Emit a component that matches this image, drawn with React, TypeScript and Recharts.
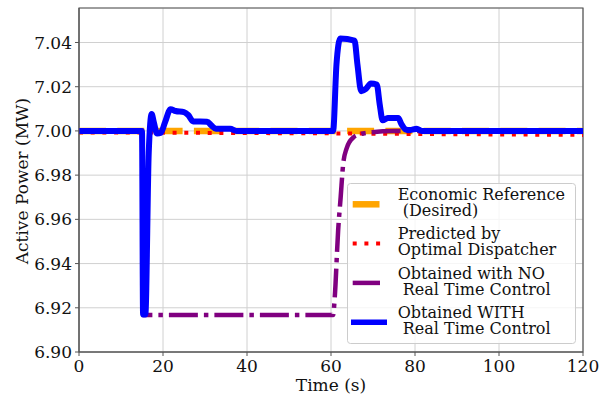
import { LineChart, Line, XAxis, YAxis, CartesianGrid, ReferenceArea, Legend } from "recharts"

// x axis: time in seconds, y axis: active power in MW
const timeTicks = [0, 20, 40, 60, 80, 100, 120]
const powerTicks = [6.9, 6.92, 6.94, 6.96, 6.98, 7.0, 7.02, 7.04]

const referenceTime = [0, 120]
const referenceValue = [7.0, 7.0]

const predictedTime = [0, 15, 30, 60, 90, 120]
const predictedValue = [6.9993, 6.9993, 6.9991, 6.9989, 6.9985, 6.9982]

const noControlTime = [0, 15, 15.25, 60.5, 60.9, 61.7, 62.3, 62.9, 63.7, 65.3, 67, 69.3, 75, 120]
const noControlValue = [7.0, 7.0, 6.9167, 6.9167, 6.925, 6.955, 6.97, 6.985, 6.992, 6.997, 6.9985, 6.9993, 7.0, 7.0]

const withControlTime = [
  0, 15, 15.25, 15.8, 16.6, 17.3, 17.8, 18.6, 19.5, 20.5, 21.8, 23, 25, 26, 27.2, 30.5, 31.5, 32.6, 36, 37.5,
  60.5, 61.3, 62.2, 65.6, 66.3, 67.2, 68.3, 69.5, 70.9, 71.6, 72.3, 73.5, 76, 76.8, 77.8, 78.8, 80.4, 81.6, 120,
]
const withControlValue = [
  7.0, 7.0, 6.917, 6.917, 6.99, 7.0077, 7.004, 6.9988, 6.9992, 7.004, 7.0098, 7.009, 7.0085, 7.0072, 7.0043, 7.0042, 7.0025, 7.001, 7.001, 7.0,
  7.0, 7.03, 7.0418, 7.0408, 7.03, 7.018, 7.019, 7.0215, 7.021, 7.012, 7.0048, 7.0058, 7.0058, 7.003, 7.0006, 7.0004, 7.001, 7.0, 7.0,
]

const seriesNames = [
  ["Economic Reference", " (Desired)"],
  ["Predicted by", "Optimal Dispatcher"],
  ["Obtained with NO", " Real Time Control"],
  ["Obtained WITH", " Real Time Control"],
]

const toRows = (ts: number[], vs: number[]) => ts.map((t, i) => ({ t, v: vs[i] }))

const FONT = "'DejaVu Serif', serif"
const AXIS_FONT = 17

const LegendBox = () => {
  const handles = [
    { color: "#FFA500", width: 6.5, dash: undefined, x2: 32.5 },
    { color: "#FF0000", width: 4, dash: "4 7.7", x2: 34 },
    { color: "#800080", width: 4.5, dash: undefined, x2: 33 },
    { color: "#0000FF", width: 5.5, dash: undefined, x2: 40 },
  ]
  return (
    <svg width={229} height={161} style={{ display: "block" }}>
      <rect x={0.5} y={0.5} width={228} height={160} rx={3} fill="rgba(255,255,255,0.8)" stroke="#cccccc" />
      {handles.map((h, i) => {
        const y = 21.3 + 39.3 * i
        return (
          <g key={i}>
            <line x1={i === 3 ? 4 : 5.7} x2={h.x2} y1={y} y2={y} stroke={h.color} strokeWidth={h.width} strokeDasharray={h.dash} />
            <text x={50.7} y={y - 4.3} fontFamily={FONT} fontSize={16} fill="#111" style={{ whiteSpace: "pre" }}>
              {seriesNames[i][0]}
            </text>
            <text x={50.7} y={y + 11.7} fontFamily={FONT} fontSize={16} fill="#111" style={{ whiteSpace: "pre" }}>
              {seriesNames[i][1]}
            </text>
          </g>
        )
      })}
    </svg>
  )
}

export default function App() {
  return (
    <div style={{ position: "absolute", left: 0, top: 0, width: 608, height: 399, background: "#fff" }}>
      <LineChart width={608} height={399} margin={{ top: 8, right: 25, bottom: 0, left: 0 }}>
        <CartesianGrid stroke="#d0d0d0" strokeWidth={1} />
        <XAxis
          type="number"
          dataKey="t"
          domain={[0, 120]}
          ticks={timeTicks}
          allowDataOverflow
          height={47}
          stroke="#555"
          tickSize={4}
          tickMargin={4}
          tick={{ fill: "#111", fontSize: AXIS_FONT, fontFamily: FONT }}
          label={{ value: "Time (s)", position: "insideBottom", offset: 8, fill: "#111", fontSize: AXIS_FONT, fontFamily: FONT }}
        />
        <YAxis
          type="number"
          domain={[6.9, 7.0556]}
          ticks={powerTicks}
          allowDataOverflow
          width={79}
          stroke="#555"
          tickSize={4}
          tickMargin={3}
          tickFormatter={(v: number) => v.toFixed(2)}
          tick={{ fill: "#111", fontSize: AXIS_FONT, fontFamily: FONT }}
          label={{
            content: () => (
              <text x={22} y={181} transform="rotate(-90 22 181)" textAnchor="middle" dominantBaseline="central" fontSize={AXIS_FONT} fontFamily={FONT} fill="#111">
                Active Power (MW)
              </text>
            ),
          }}
        />
        <ReferenceArea x1={0} x2={120} y1={6.9} y2={7.0556} fill="none" stroke="#555" strokeWidth={1.2} ifOverflow="extendDomain" />
        <Line data={toRows(referenceTime, referenceValue)} dataKey="v" type="linear" stroke="#FFA500" strokeWidth={6.5} strokeDasharray="27 11.3" dot={false} isAnimationActive={false} />
        <Line data={toRows(predictedTime, predictedValue)} dataKey="v" type="linear" stroke="#FF0000" strokeWidth={4} strokeDasharray="4 7.7" dot={false} isAnimationActive={false} />
        <Line data={toRows(noControlTime, noControlValue)} dataKey="v" type="monotone" stroke="#800080" strokeWidth={4.5} strokeDasharray="29 6 4.5 6" dot={false} isAnimationActive={false} />
        <Line data={toRows(withControlTime, withControlValue)} dataKey="v" type="monotone" stroke="#0000FF" strokeWidth={6} strokeLinejoin="round" strokeLinecap="round" dot={false} isAnimationActive={false} />
        <Legend
          layout="vertical"
          align="center"
          verticalAlign="middle"
          content={() => <LegendBox />}
          wrapperStyle={{ left: 347, top: 183, width: 229, height: 161 }}
        />
      </LineChart>
    </div>
  )
}
